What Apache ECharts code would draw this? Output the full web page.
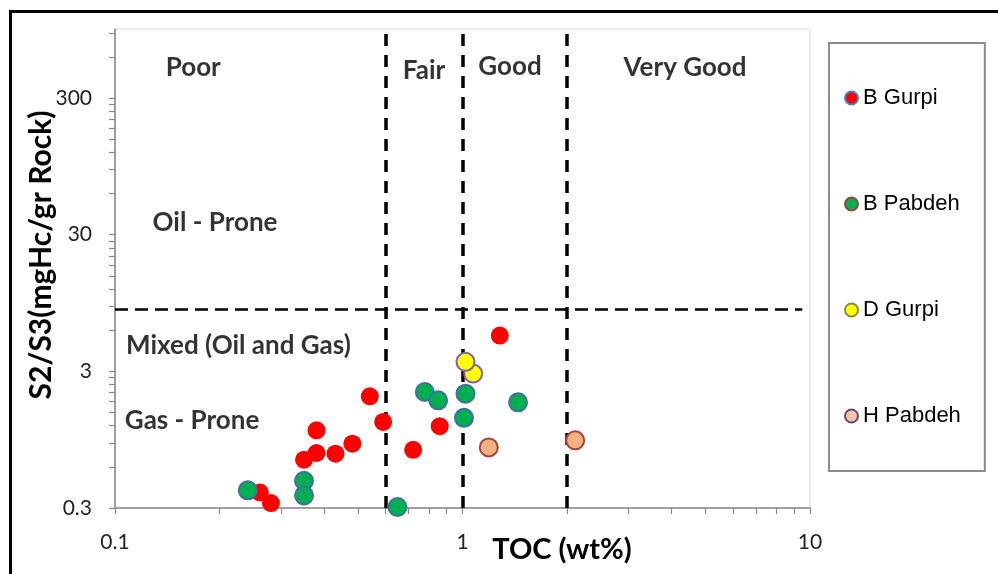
<!DOCTYPE html>
<html>
<head>
<meta charset="utf-8">
<script src="https://cdn.jsdelivr.net/npm/echarts@6/dist/echarts.min.js"></script>
<style>
  html, body { margin: 0; padding: 0; background: #ffffff; }
  #chart { width: 998px; height: 574px; }
</style>
</head>
<body>
<div id="chart"></div>
<script>
// Samples: [TOC (wt%), S2/S3]
const bGurpi = [[1.28, 5.48], [0.541, 1.97], [0.591, 1.28], [0.86, 1.19], [0.38, 1.11], [0.482, 0.887],
                [0.721, 0.80], [0.431, 0.749], [0.38, 0.758], [0.35, 0.677], [0.261, 0.39], [0.281, 0.326]];
const bPabdeh = [[0.241, 0.404], [0.35, 0.475], [0.35, 0.371], [0.65, 0.305], [0.779, 2.12],
                 [0.851, 1.84], [1.02, 2.06], [1.01, 1.37], [1.445, 1.78]];
const dGurpi = [[1.073, 2.89], [1.02, 3.52]];
const hPabdeh = [[1.19, 0.833], [2.11, 0.938]];

// Classification boundaries
const tocBounds = [0.6, 1, 2];          // Poor | Fair | Good | Very Good
const ratioBound = 8.5;                  // Oil-prone above, mixed / gas below
const ratioLineX = [0.1, 9.5];

// Axis ranges and labelled ticks
const xRange = [0.1, 10];
const yRange = [0.3, 960];
const xTickLabels = [0.1, 1, 10];
const yTickLabels = [0.3, 3, 30, 300];

// Zone captions, placed in data coordinates
const zoneNames = ['Poor', 'Fair', 'Good', 'Very Good', 'Oil - Prone', 'Mixed (Oil and Gas)', 'Gas - Prone'];
const zonePos = [[0.168, 497], [0.775, 480], [1.37, 513], [4.37, 505], [0.194, 37], [0.2266, 4.59], [0.1666, 1.30]];

// Minor tick positions: each decade split into nine equal steps
function decadeTicks(start, end) {
  const out = [];
  for (let base = start; base < end * 1.0001; base *= 10) {
    for (let k = 1; k <= 10; k++) {
      const v = +(base * k).toPrecision(6);
      if (v <= end * 1.0001 && out.indexOf(v) < 0) out.push(v);
    }
  }
  return out;
}
const xMinorTicks = decadeTicks(0.1, 10);
const yMinorTicks = decadeTicks(0.3, 900).filter(v => v <= yRange[1]);

const chart = echarts.init(document.getElementById('chart'), null, { renderer: 'canvas' });

const mark = (fill, border) => ({ color: fill, borderColor: border, borderWidth: border ? 2 : 0, opacity: 1 });

const option = {
  backgroundColor: '#ffffff',
  animation: false,
  grid: {
    left: 115, right: 188, top: 29, bottom: 66,
    show: true, borderColor: '#d9d9d9', borderWidth: 1
  },
  xAxis: {
    type: 'log', logBase: 10, min: xRange[0], max: xRange[1],
    axisLine: { show: true, lineStyle: { color: '#868686', width: 1.5 } },
    axisTick: { show: true, length: 6, customValues: xMinorTicks, lineStyle: { color: '#868686', width: 1.2 } },
    axisLabel: {
      customValues: xTickLabels, margin: 24,
      formatter: v => String(+(+v).toPrecision(3)),
      fontFamily: 'Lato', fontSize: 21, color: '#222'
    },
    splitLine: { show: false }
  },
  yAxis: {
    type: 'log', logBase: 10, min: yRange[0], max: yRange[1],
    axisLine: { show: true, lineStyle: { color: '#868686', width: 1.5 } },
    axisTick: { show: true, length: 6, customValues: yMinorTicks, lineStyle: { color: '#868686', width: 1.2 } },
    axisLabel: {
      customValues: yTickLabels, margin: 23,
      formatter: v => String(+(+v).toPrecision(3)),
      fontFamily: 'Lato', fontSize: 21, color: '#222'
    },
    splitLine: { show: false }
  },
  legend: {
    orient: 'vertical',
    left: 829, top: 43,
    padding: [44, 24, 44, 15],
    itemGap: 84,
    itemWidth: 13, itemHeight: 13,
    icon: 'circle',
    borderColor: '#8c8c8c', borderWidth: 2,
    textStyle: { fontFamily: 'Liberation Sans', fontSize: 22, color: '#000', padding: [0, 0, 0, 0] },
    data: [
      { name: 'B Gurpi', itemStyle: mark('#ff0000', '#4f81bd') },
      { name: 'B Pabdeh', itemStyle: mark('#00b050', '#a0413a') },
      { name: 'D Gurpi', itemStyle: mark('#ffff00', '#8a8a3a') },
      { name: 'H Pabdeh', itemStyle: mark('#f6c4a5', '#5e4a7e') }
    ]
  },
  graphic: [
    {
      type: 'polyline', silent: true,
      shape: { points: [[10.5, 574], [10.5, 11.5], [998, 11.5]] },
      style: { stroke: '#000', lineWidth: 3, fill: null }
    },
    {
      type: 'text', silent: true, x: 562, y: 550,
      style: { text: 'TOC (wt%)', fontFamily: 'Lato', fontWeight: 'bold', fontSize: 29, fill: '#000',
               textAlign: 'center', textVerticalAlign: 'middle' }
    },
    {
      type: 'text', silent: true, x: 41, y: 255, rotation: Math.PI / 2,
      style: { text: 'S2/S3(mgHc/gr Rock)', fontFamily: 'Lato', fontWeight: 'bold', fontSize: 30, fill: '#000',
               textAlign: 'center', textVerticalAlign: 'middle' }
    }
  ],
  series: [
    {
      // vertical TOC class boundaries
      type: 'line', data: [], silent: true, z: 1,
      markLine: {
        silent: true, symbol: ['none', 'none'], label: { show: false },
        lineStyle: { color: '#000', width: 3.5, type: [12, 9] },
        data: tocBounds.map(v => ({ xAxis: v }))
      }
    },
    {
      // horizontal S2/S3 boundary
      type: 'line', silent: true, z: 1, symbol: 'none',
      lineStyle: { color: '#000', width: 2.5, type: [13, 7] },
      data: ratioLineX.map(x => [x, ratioBound])
    },
    {
      type: 'scatter', silent: true, z: 2, symbolSize: 1,
      itemStyle: { color: 'rgba(0,0,0,0)' },
      label: {
        show: true, position: 'inside', formatter: p => p.name,
        fontFamily: 'Lato', fontWeight: 'bold', fontSize: 26, color: '#000'
      },
      data: zoneNames.map((n, i) => ({ name: n, value: zonePos[i] }))
    },
    { name: 'B Gurpi', type: 'scatter', z: 5, symbol: 'circle', symbolSize: 18,
      itemStyle: mark('#ff0000', null), data: bGurpi },
    { name: 'B Pabdeh', type: 'scatter', z: 5, symbol: 'circle', symbolSize: 18,
      itemStyle: mark('#00b050', '#41719c'), data: bPabdeh },
    { name: 'D Gurpi', type: 'scatter', z: 5, symbol: 'circle', symbolSize: 18,
      itemStyle: mark('#ffff00', '#8064a2'), data: dGurpi },
    { name: 'H Pabdeh', type: 'scatter', z: 5, symbol: 'circle', symbolSize: 18,
      itemStyle: mark('#f4b183', '#a94438'), data: hPabdeh }
  ]
};

chart.setOption(option);
</script>
</body>
</html>
